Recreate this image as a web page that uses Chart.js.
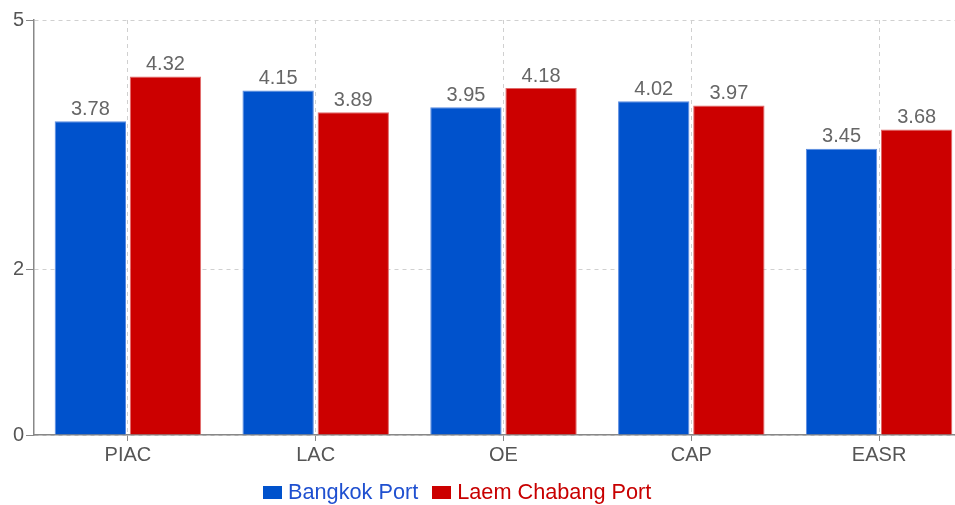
<!DOCTYPE html>
<html>
<head>
	<title></title>
	<script type="text/javascript" src="https://cdn.jsdelivr.net/npm/chart.js@4/dist/chart.umd.min.js"></script>
	<style>
		html, body { margin:0; padding:0; background:#fff; overflow:hidden; }
		#wrap { position:relative; width:975px; height:505px; }
		#legend { position:absolute; left:263px; top:479px; font-family:"Liberation Sans", Arial, sans-serif; font-size:21.7px; white-space:nowrap; }
		#legend span.box { display:inline-block; width:19px; height:13px; margin-right:6px; vertical-align:0px; }
		#legend span.item { margin-right:14px; }
	</style>
</head>
<body>
	<div id="wrap">
		<canvas id="chart" width="975" height="505"></canvas>
		<div id="legend"></div>
	</div>
	<script type="text/javascript">
	// datos de la grafica
	var categorias = ["PIAC", "LAC", "OE", "CAP", "EASR"];
	var bangkok = [3.78, 4.15, 3.95, 4.02, 3.45];
	var laemChabang = [4.32, 3.89, 4.18, 3.97, 3.68];
	var ticksY = [0, 2, 5];

	var series = [
		{ nombre: "Bangkok Port", datos: bangkok, color: "#0052cc", borde: "#5a8be0", texto: "#1f50d0" },
		{ nombre: "Laem Chabang Port", datos: laemChabang, color: "#cc0000", borde: "#e06a6a", texto: "#c80000" }
	];

	var fuente = "'Liberation Sans', Arial, sans-serif";

	// etiquetas encima de las barras
	var etiquetas = {
		id: "etiquetas",
		afterDatasetsDraw: function(chart){
			var ctx = chart.ctx;
			ctx.save();
			ctx.font = "20px " + fuente;
			ctx.fillStyle = "#666";
			ctx.textAlign = "center";
			ctx.textBaseline = "bottom";
			chart.data.datasets.forEach(function(ds, i){
				chart.getDatasetMeta(i).data.forEach(function(bar, j){
					ctx.fillText(ds.data[j].toFixed(2), bar.x, bar.y - 2);
				});
			});
			ctx.restore();
		}
	};

	var canvas = document.getElementById('chart').getContext('2d');
	window.bar = new Chart(canvas, {
		type: "bar",
		data: {
			labels: categorias,
			datasets: series.map(function(s){
				return {
					label: s.nombre,
					data: s.datos,
					backgroundColor: s.color,
					borderColor: s.borde,
					borderWidth: 1,
					categoryPercentage: 0.8,
					barPercentage: 0.95
				};
			})
		},
		options: {
			responsive: false,
			animation: false,
			layout: { padding: { top: 20, right: 2, left: 0, bottom: 0 } },
			plugins: {
				legend: { display: false },
				tooltip: { enabled: false }
			},
			scales: {
				x: {
					grid: {
						offset: false,
						color: "#d0d0d0",
						tickBorderDash: [],
						tickColor: "#888",
						tickLength: 6
					},
					border: { color: "#888", width: 1.5, dash: [4, 4] },
					ticks: { color: "#555", font: { size: 20, family: fuente }, padding: 2 },
					afterFit: function(scale){ scale.height = 70; }
				},
				y: {
					min: 0,
					max: 5,
					afterBuildTicks: function(scale){
						scale.ticks = ticksY.map(function(v){ return { value: v }; });
					},
					grid: {
						color: "#d0d0d0",
						tickBorderDash: [],
						tickColor: "#888",
						tickLength: 8
					},
					border: { color: "#888", width: 1.5, dash: [4, 4] },
					ticks: { color: "#555", font: { size: 20, family: fuente }, padding: 2 },
					afterFit: function(scale){ scale.width = 34; }
				}
			}
		},
		plugins: [etiquetas]
	});

	// leyenda en html
	var leyenda = document.getElementById('legend');
	series.forEach(function(s){
		var item = document.createElement('span');
		item.className = "item";
		item.innerHTML = '<span class="box" style="background:' + s.color + '"></span>' +
			'<span style="color:' + s.texto + '">' + s.nombre + '</span>';
		leyenda.appendChild(item);
	});
	</script>
</body>
</html>
